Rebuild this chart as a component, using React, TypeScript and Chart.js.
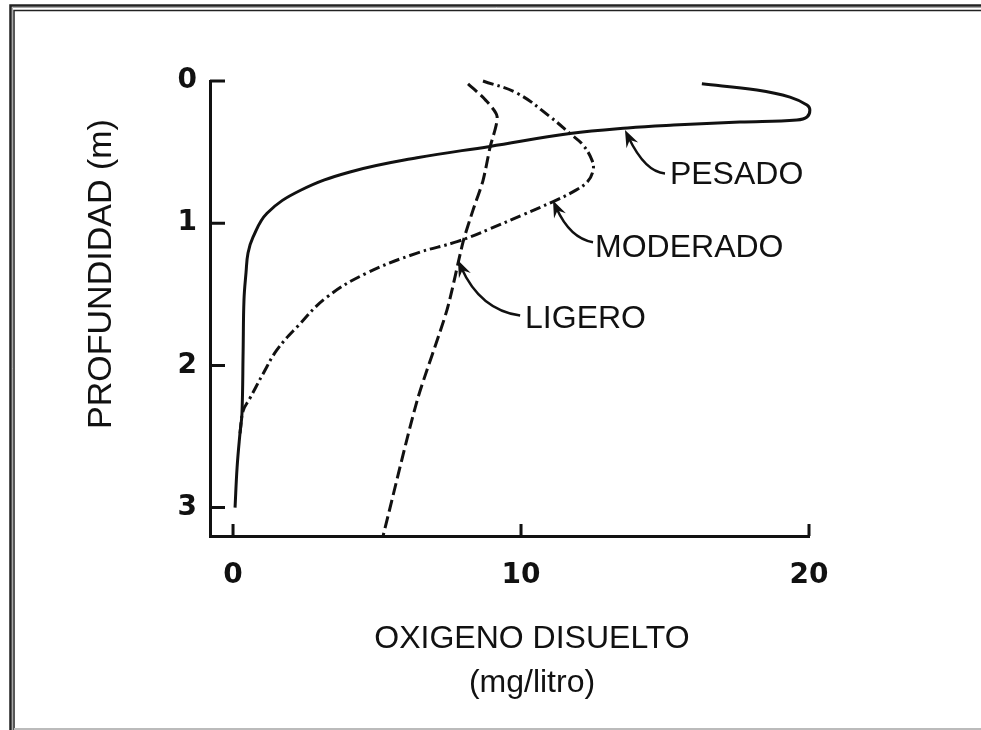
import React, { useEffect, useRef } from "react";
import { Chart, registerables } from "chart.js";

Chart.register(...registerables);

// ---------- data ----------
const xTicks = [0, 10, 20];
const yTicks = [0, 1, 2, 3];
const xTitleLines = ["OXIGENO DISUELTO", "(mg/litro)"];
const yTitle = "PROFUNDIDAD (m)";

// PESADO (solid)
const pesadoX = [16.28, 18.19, 19.34, 19.93, 20.03, 19.93, 19.58, 17.6, 15.3, 13.7, 11.7, 8.92, 6.39, 4.06, 2.33, 1.18, 0.69, 0.52, 0.45, 0.38, 0.35, 0.31, 0.24, 0.14, 0.07];
const pesadoY = [0.02, 0.063, 0.113, 0.169, 0.204, 0.253, 0.274, 0.289, 0.31, 0.33, 0.37, 0.46, 0.54, 0.64, 0.77, 0.93, 1.1, 1.21, 1.35, 1.54, 1.9, 2.34, 2.48, 2.72, 3.0];

// MODERADO (dash-dot)
const moderadoX = [8.68, 9.86, 11.0, 11.7, 12.15, 12.47, 12.5, 12.3, 11.8, 11.1, 10.07, 8.92, 7.78, 6.39, 4.65, 3.26, 2.22, 1.53, 1.04, 0.59, 0.35, 0.24];
const moderadoY = [0.0, 0.085, 0.25, 0.37, 0.45, 0.56, 0.63, 0.71, 0.78, 0.85, 0.94, 1.04, 1.13, 1.21, 1.35, 1.52, 1.73, 1.89, 2.06, 2.23, 2.32, 2.48];

// LIGERO (dashed)
const ligeroX = [8.16, 8.75, 9.17, 8.92, 8.68, 8.33, 7.99, 7.43, 6.39, 5.21];
const ligeroY = [0.02, 0.13, 0.25, 0.47, 0.7, 0.91, 1.13, 1.61, 2.25, 3.2];

// annotation labels (data units): text, label x, label baseline depth, arrow tip, arrow control, arrow tail
const labelNames = ["PESADO", "MODERADO", "LIGERO"];
const labelX = [15.17, 12.57, 10.14];
const labelY = [0.725, 1.24, 1.74];
const arrowTipX = [13.61, 11.11, 7.81];
const arrowTipY = [0.345, 0.84, 1.26];
const arrowCtrlX = [14.31, 11.7, 8.58];
const arrowCtrlY = [0.64, 1.106, 1.61];
const arrowTailX = [15.0, 12.5, 9.97];
const arrowTailY = [0.65, 1.134, 1.65];

// ---------- styles ----------
const INK = "#111";
const SANS = "'Liberation Sans', Arial, sans-serif";
const TICK_FONT = "'DejaVu Sans', sans-serif";

const toPts = (xs: number[], ys: number[]) => xs.map((x, i) => ({ x, y: ys[i] }));

const framePlugin = {
  id: "frame",
  beforeDraw(chart: any) {
    const ctx = chart.ctx;
    const w = chart.width;
    const h = chart.height;
    ctx.save();
    ctx.fillStyle = "#fff";
    ctx.fillRect(0, 0, w, h);
    ctx.strokeStyle = "#222";
    ctx.lineWidth = 2.5;
    ctx.beginPath();
    ctx.moveTo(10.5, h);
    ctx.lineTo(10.5, 5.5);
    ctx.lineTo(w, 5.5);
    ctx.stroke();
    ctx.strokeStyle = "#aaa";
    ctx.lineWidth = 1;
    ctx.beginPath();
    ctx.moveTo(12.5, h);
    ctx.lineTo(12.5, 7.5);
    ctx.lineTo(w, 7.5);
    ctx.stroke();
    ctx.strokeStyle = "#222";
    ctx.lineWidth = 1.5;
    ctx.beginPath();
    ctx.moveTo(14, h);
    ctx.lineTo(14, 10.5);
    ctx.lineTo(w, 10.5);
    ctx.stroke();
    ctx.strokeStyle = "#bbb";
    ctx.lineWidth = 2;
    ctx.beginPath();
    ctx.moveTo(14, h - 1);
    ctx.lineTo(w, h - 1);
    ctx.stroke();
    ctx.restore();
  },
};

const decorPlugin = {
  id: "decor",
  afterDraw(chart: any) {
    const ctx = chart.ctx;
    const xs = chart.scales.x;
    const ys = chart.scales.y;
    const area = chart.chartArea;
    ctx.save();
    // inward ticks
    ctx.strokeStyle = INK;
    ctx.lineWidth = 3;
    ctx.lineCap = "butt";
    ctx.beginPath();
    yTicks.forEach((v) => {
      const py = ys.getPixelForValue(v);
      ctx.moveTo(area.left, py);
      ctx.lineTo(area.left + 15, py);
    });
    xTicks.forEach((v) => {
      const px = xs.getPixelForValue(v);
      ctx.moveTo(px, area.bottom);
      ctx.lineTo(px, area.bottom - 12);
    });
    ctx.stroke();

    // arrows and labels
    ctx.fillStyle = INK;
    ctx.strokeStyle = INK;
    ctx.lineWidth = 2.5;
    ctx.font = `32px ${SANS}`;
    ctx.textAlign = "left";
    ctx.textBaseline = "alphabetic";
    labelNames.forEach((name, i) => {
      const tx = xs.getPixelForValue(arrowTipX[i]);
      const ty = ys.getPixelForValue(arrowTipY[i]);
      const cx = xs.getPixelForValue(arrowCtrlX[i]);
      const cy = ys.getPixelForValue(arrowCtrlY[i]);
      const ex = xs.getPixelForValue(arrowTailX[i]);
      const ey = ys.getPixelForValue(arrowTailY[i]);
      const ang = Math.atan2(ty - cy, tx - cx);
      const L = 17;
      const W = 6.5;
      ctx.beginPath();
      ctx.moveTo(tx - Math.cos(ang) * 8, ty - Math.sin(ang) * 8);
      ctx.quadraticCurveTo(cx, cy, ex, ey);
      ctx.stroke();
      ctx.save();
      ctx.translate(tx, ty);
      ctx.rotate(ang);
      ctx.beginPath();
      ctx.moveTo(0, 0);
      ctx.lineTo(-L, -W);
      ctx.lineTo(-L * 0.65, 0);
      ctx.lineTo(-L, W);
      ctx.closePath();
      ctx.fill();
      ctx.restore();
      ctx.fillText(name, xs.getPixelForValue(labelX[i]), ys.getPixelForValue(labelY[i]));
    });

    // axis titles
    ctx.textAlign = "center";
    ctx.font = `32px ${SANS}`;
    ctx.fillText(xTitleLines[0], 532, 648);
    ctx.fillText(xTitleLines[1], 532, 692);
    ctx.save();
    ctx.translate(111, 274);
    ctx.rotate(-Math.PI / 2);
    ctx.font = `34px ${SANS}`;
    ctx.fillText(yTitle, 0, 0);
    ctx.restore();
    ctx.restore();
  },
};

export default function App() {
  const ref = useRef<HTMLCanvasElement | null>(null);
  useEffect(() => {
    if (!ref.current) return;
    const common = {
      pointRadius: 0,
      pointHoverRadius: 0,
      showLine: true,
      fill: false,
      borderColor: INK,
      borderWidth: 3,
      tension: 0.4,
      clip: false as any,
      borderCapStyle: "butt" as const,
    };
    const chart = new Chart(ref.current, {
      type: "scatter",
      data: {
        datasets: [
          { ...common, label: "PESADO", data: toPts(pesadoX, pesadoY) },
          { ...common, label: "MODERADO", data: toPts(moderadoX, moderadoY), borderDash: [11, 4, 2.5, 4] },
          { ...common, label: "LIGERO", data: toPts(ligeroX, ligeroY), borderDash: [12, 5], tension: 0.25 },
        ],
      },
      options: {
        responsive: false,
        animation: false,
        devicePixelRatio: 1,
        layout: { padding: { top: 81, right: 172, bottom: 0, left: 0 } },
        plugins: { legend: { display: false }, tooltip: { enabled: false } },
        scales: {
          x: {
            type: "linear",
            position: "bottom",
            min: -0.8,
            max: 20,
            afterFit: (s: any) => {
              s.height = 194;
            },
            afterBuildTicks: (s: any) => {
              s.ticks = xTicks.map((v) => ({ value: v }));
            },
            grid: { display: false, drawTicks: false },
            border: { display: true, width: 3, color: INK },
            ticks: {
              color: INK,
              font: { family: TICK_FONT, size: 28, weight: "bold" },
              padding: 23,
              maxRotation: 0,
              autoSkip: false,
            },
          },
          y: {
            type: "linear",
            position: "left",
            reverse: true,
            min: 0,
            max: 3.2,
            afterFit: (s: any) => {
              s.width = 210;
            },
            afterBuildTicks: (s: any) => {
              s.ticks = yTicks.map((v) => ({ value: v }));
            },
            grid: { display: false, drawTicks: false },
            border: { display: true, width: 3, color: INK },
            ticks: {
              color: INK,
              font: { family: TICK_FONT, size: 28, weight: "bold" },
              padding: 13,
              autoSkip: false,
            },
          },
        },
      } as any,
      plugins: [framePlugin, decorPlugin],
    });
    return () => chart.destroy();
  }, []);
  return (
    <div style={{ position: "absolute", left: 0, top: 0, width: 981, height: 730 }}>
      <canvas ref={ref} width={981} height={730} style={{ display: "block", width: 981, height: 730 }} />
    </div>
  );
}
